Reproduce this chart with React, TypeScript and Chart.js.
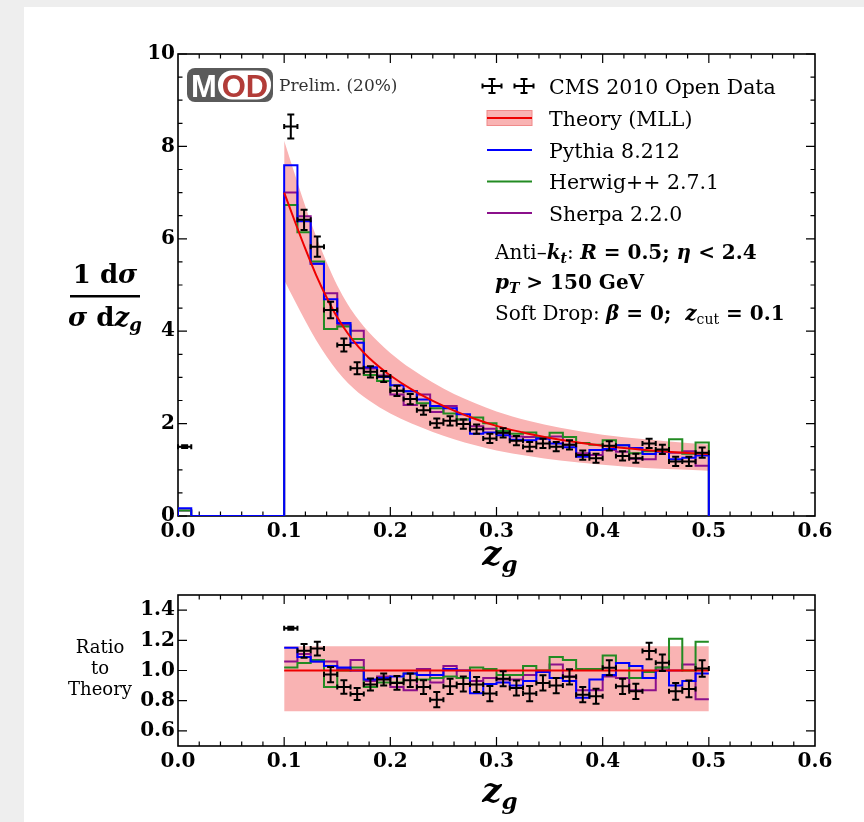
import React, { useEffect, useRef } from "react";
import { Chart, registerables } from "chart.js";

Chart.register(...registerables);

// ---------------- data ----------------
const binEdges = [
  0.1, 0.1125, 0.125, 0.1375, 0.15, 0.1625, 0.175, 0.1875, 0.2, 0.2125, 0.225,
  0.2375, 0.25, 0.2625, 0.275, 0.2875, 0.3, 0.3125, 0.325, 0.3375, 0.35, 0.3625,
  0.375, 0.3875, 0.4, 0.4125, 0.425, 0.4375, 0.45, 0.4625, 0.475, 0.4875, 0.5,
];
const underflowEdges = [0, 0.0125];

const dataValues = [
  8.43, 6.41, 5.83, 4.46, 3.7, 3.2, 3.12, 3.02, 2.71, 2.53, 2.29, 2.01, 2.06, 1.99,
  1.88, 1.68, 1.8, 1.63, 1.5, 1.57, 1.5, 1.54, 1.32, 1.25, 1.52, 1.3, 1.25, 1.57,
  1.44, 1.18, 1.18, 1.37,
];
const dataErrors = [
  0.26, 0.22, 0.22, 0.18, 0.14, 0.13, 0.12, 0.12, 0.11, 0.11, 0.1, 0.1, 0.1, 0.1,
  0.1, 0.1, 0.1, 0.1, 0.1, 0.1, 0.1, 0.1, 0.1, 0.1, 0.1, 0.1, 0.1, 0.1, 0.1, 0.1,
  0.1, 0.11,
];
const dataUnderflow = 1.5;
const dataUnderflowErr = 0.03;

const pythiaValues = [
  7.59, 6.38, 5.46, 4.69, 4.18, 3.75, 3.22, 3.01, 2.83, 2.7, 2.52, 2.38, 2.33, 2.2,
  1.78, 1.81, 1.75, 1.65, 1.64, 1.68, 1.57, 1.49, 1.28, 1.43, 1.45, 1.53, 1.47,
  1.34, 1.39, 1.23, 1.26, 1.31,
];
const herwigValues = [
  6.73, 6.14, 5.51, 4.05, 4.1, 3.83, 3.05, 2.92, 2.71, 2.7, 2.44, 2.33, 2.22, 2.09,
  2.13, 2.01, 1.84, 1.78, 1.81, 1.7, 1.8, 1.71, 1.58, 1.54, 1.64, 1.53, 1.36, 1.4,
  1.42, 1.66, 1.35, 1.59,
];
const sherpaValues = [
  7.0, 6.49, 5.46, 4.82, 4.14, 4.01, 3.19, 3.04, 2.63, 2.4, 2.63, 2.25, 2.38, 2.09,
  1.94, 1.89, 1.79, 1.72, 1.71, 1.68, 1.72, 1.54, 1.36, 1.32, 1.43, 1.39, 1.24,
  1.23, 1.42, 1.37, 1.4, 1.09,
];
const pythiaUnderflow = 0.17;
const herwigUnderflow = 0.12;
const sherpaUnderflow = 0.12;

const theoryZ = [
  0.1, 0.11, 0.12, 0.13, 0.14, 0.15, 0.16, 0.17, 0.18, 0.19, 0.2, 0.22, 0.24, 0.26,
  0.28, 0.3, 0.33, 0.36, 0.4, 0.44, 0.48, 0.5,
];
const theoryValues = [
  7.0, 6.38, 5.78, 5.22, 4.73, 4.3, 3.95, 3.66, 3.42, 3.22, 3.04, 2.74, 2.49, 2.28,
  2.1, 1.95, 1.78, 1.65, 1.52, 1.43, 1.365, 1.34,
];
const theoryHigh = [
  8.12, 7.4, 6.7, 6.06, 5.49, 4.99, 4.58, 4.25, 3.97, 3.74, 3.53, 3.18, 2.89, 2.64,
  2.44, 2.26, 2.06, 1.91, 1.76, 1.66, 1.58, 1.55,
];
const theoryLow = [
  5.11, 4.66, 4.22, 3.81, 3.45, 3.14, 2.88, 2.67, 2.5, 2.35, 2.22, 2.0, 1.82, 1.66,
  1.53, 1.42, 1.3, 1.2, 1.11, 1.04, 1.0, 0.98,
];

const ratioData = [
  1.28, 1.13, 1.145, 0.973, 0.891, 0.844, 0.907, 0.94, 0.918, 0.935, 0.89, 0.807,
  0.895, 0.911, 0.907, 0.847, 0.945, 0.884, 0.847, 0.918, 0.9, 0.958, 0.84, 0.829,
  1.018, 0.895, 0.862, 1.129, 1.051, 0.862, 0.878, 1.013,
];
const ratioErrors = [
  0.01, 0.045, 0.045, 0.05, 0.045, 0.04, 0.04, 0.04, 0.045, 0.045, 0.045, 0.05,
  0.05, 0.05, 0.05, 0.05, 0.05, 0.05, 0.05, 0.05, 0.05, 0.05, 0.05, 0.05, 0.05,
  0.05, 0.05, 0.055, 0.055, 0.055, 0.055, 0.055,
];
const ratioPythia = [
  1.15, 1.09, 1.06, 1.03, 1.02, 1.0, 0.94, 0.95, 0.96, 0.98, 0.97, 0.97, 1.01, 1.0,
  0.85, 0.91, 0.92, 0.9, 0.93, 0.99, 0.95, 0.93, 0.82, 0.94, 0.97, 1.05, 1.03, 0.95,
  1.0, 0.9, 0.93, 0.98,
];
const ratioHerwig = [
  1.02, 1.05, 1.07, 0.89, 1.0, 1.02, 0.89, 0.92, 0.92, 0.98, 0.94, 0.95, 0.96, 0.95,
  1.02, 1.01, 0.97, 0.97, 1.03, 1.0, 1.09, 1.07, 1.01, 1.01, 1.1, 1.05, 0.95, 0.99,
  1.02, 1.21, 1.0, 1.19,
];
const ratioSherpa = [
  1.06, 1.11, 1.06, 1.06, 1.01, 1.07, 0.93, 0.96, 0.89, 0.87, 1.01, 0.92, 1.03,
  0.95, 0.93, 0.95, 0.94, 0.94, 0.97, 0.99, 1.04, 0.96, 0.87, 0.87, 0.96, 0.95,
  0.87, 0.87, 1.02, 1.0, 1.04, 0.81,
];
const ratioBandLow = 0.73;
const ratioBandHigh = 1.16;
const ratioTheory = 1.0;

const xTickValues = [0, 0.1, 0.2, 0.3, 0.4, 0.5, 0.6];
const xTickLabels = ["0.0", "0.1", "0.2", "0.3", "0.4", "0.5", "0.6"];
const yTickValues = [0, 2, 4, 6, 8, 10];
const yTickLabels = ["0", "2", "4", "6", "8", "10"];
const ratioTickValues = [0.6, 0.8, 1.0, 1.2, 1.4];
const ratioTickLabels = ["0.6", "0.8", "1.0", "1.2", "1.4"];

// ---------------- styling ----------------
const SERIF = "'DejaVu Serif', serif";
const BLUE = "#0000ff";
const GREEN = "#228b22";
const PURPLE = "#8b108b";
const RED = "#ee0000";
const PINK = "#f9b3b3";

const tickFont = { family: SERIF, size: 20, weight: "bold" as const };

type Seg = { t: string; f: string; dy?: number };
function drawRich(ctx: CanvasRenderingContext2D, segs: Seg[], x: number, y: number, align: "left" | "center" = "left") {
  let w = 0;
  for (const s of segs) {
    ctx.font = s.f;
    w += ctx.measureText(s.t).width;
  }
  let cx = align === "center" ? x - w / 2 : x;
  ctx.textAlign = "left";
  ctx.textBaseline = "alphabetic";
  for (const s of segs) {
    ctx.font = s.f;
    ctx.fillText(s.t, cx, y + (s.dy || 0));
    cx += ctx.measureText(s.t).width;
  }
}

function mainHist(under: number, vals: number[]) {
  const pts = [
    { x: underflowEdges[0], y: 0 },
    { x: underflowEdges[0], y: under },
    { x: underflowEdges[1], y: 0 },
  ];
  vals.forEach((v, i) => pts.push({ x: binEdges[i], y: v }));
  pts.push({ x: binEdges[binEdges.length - 1], y: 0 });
  return pts;
}
function ratioHist(vals: number[]) {
  const pts = vals.map((v, i) => ({ x: binEdges[i], y: v }));
  pts.push({ x: binEdges[vals.length], y: vals[vals.length - 1] });
  return pts;
}
const binCenter = (i: number) => (binEdges[i] + binEdges[i + 1]) / 2;
const binHalf = (i: number) => (binEdges[i + 1] - binEdges[i]) / 2;

function framePlugin(yMajor: number[], yMinorStep: number | null) {
  return {
    id: "frame",
    beforeDatasetsDraw(chart: any) {
      const { ctx, chartArea: a } = chart;
      const xs = chart.scales.x;
      const ys = chart.scales.y;
      ctx.save();
      ctx.strokeStyle = "#000";
      ctx.lineWidth = 1.2;
      ctx.beginPath();
      const tx = (v: number, len: number) => {
        const p = xs.getPixelForValue(v);
        ctx.moveTo(p, a.bottom);
        ctx.lineTo(p, a.bottom - len);
        ctx.moveTo(p, a.top);
        ctx.lineTo(p, a.top + len);
      };
      const ty = (v: number, len: number) => {
        const p = ys.getPixelForValue(v);
        ctx.moveTo(a.left, p);
        ctx.lineTo(a.left + len, p);
        ctx.moveTo(a.right, p);
        ctx.lineTo(a.right - len, p);
      };
      for (let k = 1; k < 30; k++) {
        if (k % 5 === 0) tx(k * 0.02, 9);
        else tx(k * 0.02, 4.5);
      }
      for (const v of yMajor) ty(v, 9);
      if (yMinorStep) {
        const n = Math.round((ys.max - ys.min) / yMinorStep);
        for (let k = 1; k < n; k++) {
          const v = ys.min + k * yMinorStep;
          if (!yMajor.some((m) => Math.abs(m - v) < 1e-6)) ty(v, 4.5);
        }
      }
      ctx.stroke();
      ctx.lineWidth = 1.6;
      ctx.strokeRect(a.left, a.top, a.right - a.left, a.bottom - a.top);
      ctx.restore();
    },
  };
}

const errorBarPlugin = {
  id: "errbars",
  afterDatasetsDraw(chart: any) {
    const ds = chart.data.datasets.find((d: any) => d.label === "CMS 2010 Open Data");
    if (!ds) return;
    const { ctx } = chart;
    const xs = chart.scales.x;
    const ys = chart.scales.y;
    ctx.save();
    ctx.strokeStyle = "#000";
    ctx.lineWidth = 2;
    ctx.beginPath();
    for (const p of ds.data) {
      const px = xs.getPixelForValue(p.x);
      const py = ys.getPixelForValue(p.y);
      const x0 = xs.getPixelForValue(p.x - p.ex);
      const x1 = xs.getPixelForValue(p.x + p.ex);
      const y0 = ys.getPixelForValue(p.y - p.ey);
      const y1 = ys.getPixelForValue(p.y + p.ey);
      ctx.moveTo(x0, py);
      ctx.lineTo(x1, py);
      ctx.moveTo(px, y0);
      ctx.lineTo(px, y1);
      ctx.moveTo(px - 3.5, y0);
      ctx.lineTo(px + 3.5, y0);
      ctx.moveTo(px - 3.5, y1);
      ctx.lineTo(px + 3.5, y1);
      ctx.moveTo(x0, py - 2.5);
      ctx.lineTo(x0, py + 2.5);
      ctx.moveTo(x1, py - 2.5);
      ctx.lineTo(x1, py + 2.5);
    }
    ctx.stroke();
    ctx.restore();
  },
};

function crossIcon(ctx: CanvasRenderingContext2D, cx: number, cy: number) {
  ctx.beginPath();
  ctx.moveTo(cx - 9.5, cy);
  ctx.lineTo(cx + 9.5, cy);
  ctx.moveTo(cx, cy - 7);
  ctx.lineTo(cx, cy + 7);
  ctx.moveTo(cx - 3.5, cy - 7);
  ctx.lineTo(cx + 3.5, cy - 7);
  ctx.moveTo(cx - 3.5, cy + 7);
  ctx.lineTo(cx + 3.5, cy + 7);
  ctx.moveTo(cx - 9.5, cy - 2.5);
  ctx.lineTo(cx - 9.5, cy + 2.5);
  ctx.moveTo(cx + 9.5, cy - 2.5);
  ctx.lineTo(cx + 9.5, cy + 2.5);
  ctx.stroke();
}

const mainDecorPlugin = {
  id: "mainDecor",
  afterDraw(chart: any) {
    const ctx: CanvasRenderingContext2D = chart.ctx;
    ctx.save();
    // MOD logo
    ctx.fillStyle = "#5a5a5a";
    ctx.beginPath();
    (ctx as any).roundRect(187, 68, 86, 34, 8);
    ctx.fill();
    ctx.fillStyle = "#ffffff";
    ctx.beginPath();
    (ctx as any).roundRect(218, 70.5, 53, 29, 14);
    ctx.fill();
    ctx.font = "bold 31px 'Liberation Sans', Arial, sans-serif";
    ctx.textAlign = "center";
    ctx.textBaseline = "alphabetic";
    ctx.fillStyle = "#ffffff";
    ctx.fillText("M", 204, 97);
    ctx.fillStyle = "#b23c38";
    ctx.fillText("OD", 245, 97);
    ctx.fillStyle = "#333333";
    ctx.textAlign = "left";
    ctx.font = `17px ${SERIF}`;
    ctx.fillText("Prelim. (20%)", 279, 91);

    // legend
    const tx = 549;
    const R = `20.5px ${SERIF}`;
    ctx.fillStyle = "#000";
    ctx.font = R;
    ctx.textAlign = "left";
    ctx.strokeStyle = "#000";
    ctx.lineWidth = 2;
    crossIcon(ctx, 492, 86);
    crossIcon(ctx, 524, 86);
    ctx.fillText("CMS 2010 Open Data", tx, 93.5);

    ctx.fillStyle = PINK;
    ctx.fillRect(487, 110.5, 45, 15);
    ctx.strokeStyle = "#f08a8a";
    ctx.lineWidth = 1;
    ctx.strokeRect(487, 110.5, 45, 15);
    ctx.strokeStyle = RED;
    ctx.lineWidth = 2;
    ctx.beginPath();
    ctx.moveTo(487, 118);
    ctx.lineTo(532, 118);
    ctx.stroke();
    ctx.fillStyle = "#000";
    ctx.fillText("Theory (MLL)", tx, 126);

    const lines: [string, string, number][] = [
      [BLUE, "Pythia 8.212", 150],
      [GREEN, "Herwig++ 2.7.1", 181.5],
      [PURPLE, "Sherpa 2.2.0", 213],
    ];
    for (const [c, label, y] of lines) {
      ctx.strokeStyle = c;
      ctx.beginPath();
      ctx.moveTo(487, y);
      ctx.lineTo(532, y);
      ctx.stroke();
      ctx.fillStyle = "#000";
      ctx.font = R;
      ctx.fillText(label, tx, y + 7.5);
    }

    // annotations
    const B = `bold 20px ${SERIF}`;
    const BI = `italic bold 20px ${SERIF}`;
    const BIs = `italic bold 14px ${SERIF}`;
    const Rg = `20px ${SERIF}`;
    const Rs = `14px ${SERIF}`;
    ctx.fillStyle = "#000";
    drawRich(ctx, [
      { t: "Anti\u2013", f: Rg },
      { t: "k", f: BI },
      { t: "t", f: BIs, dy: 4 },
      { t: ": ", f: Rg },
      { t: "R", f: BI },
      { t: " = 0.5; ", f: B },
      { t: "\u03b7", f: BI },
      { t: " < 2.4", f: B },
    ], 495, 259);
    drawRich(ctx, [
      { t: "p", f: BI },
      { t: "T", f: BIs, dy: 4 },
      { t: " > 150 GeV", f: B },
    ], 495, 289);
    drawRich(ctx, [
      { t: "Soft Drop: ", f: Rg },
      { t: "\u03b2", f: BI },
      { t: " = 0;  ", f: B },
      { t: "z", f: BI },
      { t: "cut", f: Rs, dy: 4 },
      { t: " = 0.1", f: B },
    ], 495, 320);

    // y-axis title
    const B26 = `bold 26px ${SERIF}`;
    const BI26 = `italic bold 26px ${SERIF}`;
    const BI18 = `italic bold 18px ${SERIF}`;
    drawRich(ctx, [
      { t: "1 d", f: B26 },
      { t: "\u03c3", f: BI26 },
    ], 105, 283, "center");
    ctx.fillRect(70, 295, 70, 2.5);
    drawRich(ctx, [
      { t: "\u03c3", f: BI26 },
      { t: " d", f: B26 },
      { t: "z", f: BI26 },
      { t: "g", f: BI18, dy: 5 },
    ], 105, 326, "center");

    // x-axis title
    drawRich(ctx, [
      { t: "z", f: `italic bold 34px ${SERIF}` },
      { t: "g", f: `italic bold 23px ${SERIF}`, dy: 7 },
    ], 500, 565, "center");
    ctx.restore();
  },
};

const ratioDecorPlugin = {
  id: "ratioDecor",
  afterDraw(chart: any) {
    const ctx: CanvasRenderingContext2D = chart.ctx;
    ctx.save();
    ctx.fillStyle = "#000";
    ctx.font = `18px ${SERIF}`;
    ctx.textAlign = "center";
    ctx.textBaseline = "alphabetic";
    ctx.fillText("Ratio", 100, 78);
    ctx.fillText("to", 100, 99);
    ctx.fillText("Theory", 100, 120);
    drawRich(ctx, [
      { t: "z", f: `italic bold 34px ${SERIF}` },
      { t: "g", f: `italic bold 23px ${SERIF}`, dy: 7 },
    ], 500, 227, "center");
    ctx.restore();
  },
};

function xScale() {
  return {
    type: "linear" as const,
    min: 0,
    max: 0.6,
    grid: { display: false, drawTicks: false },
    border: { display: false },
    afterBuildTicks: (s: any) => {
      s.ticks = xTickValues.map((v) => ({ value: v }));
    },
    afterFit: (s: any) => {
      s.height = 30;
    },
    ticks: {
      callback: (_v: any, i: number) => xTickLabels[i],
      font: tickFont,
      color: "#000",
      padding: 4,
      maxRotation: 0,
      autoSkip: false,
    },
  };
}

function yScale(min: number, max: number, values: number[], labels: string[]) {
  return {
    type: "linear" as const,
    min,
    max,
    grid: { display: false, drawTicks: false },
    border: { display: false },
    afterBuildTicks: (s: any) => {
      s.ticks = values.map((v) => ({ value: v }));
    },
    afterFit: (s: any) => {
      s.width = 40;
    },
    ticks: {
      callback: (_v: any, i: number) => labels[i],
      font: tickFont,
      color: "#000",
      padding: 3,
      autoSkip: false,
    },
  };
}

function histDataset(label: string, color: string, data: any[], order: number) {
  return {
    label,
    data,
    borderColor: color,
    borderWidth: 2,
    pointRadius: 0,
    stepped: true,
    fill: false,
    order,
  };
}

export default function App() {
  const mainRef = useRef<HTMLCanvasElement>(null);
  const ratioRef = useRef<HTMLCanvasElement>(null);

  useEffect(() => {
    const theoryLine = theoryZ.map((z, i) => ({ x: z, y: theoryValues[i] }));
    const bandLo = theoryZ.map((z, i) => ({ x: z, y: theoryLow[i] }));
    const bandHi = theoryZ.map((z, i) => ({ x: z, y: theoryHigh[i] }));
    const dataPts = [
      { x: (underflowEdges[0] + underflowEdges[1]) / 2, y: dataUnderflow, ex: (underflowEdges[1] - underflowEdges[0]) / 2, ey: dataUnderflowErr },
      ...dataValues.map((v, i) => ({ x: binCenter(i), y: v, ex: binHalf(i), ey: dataErrors[i] })),
    ];

    const main = new Chart(mainRef.current!, {
      type: "line",
      data: {
        datasets: [
          { label: "bandLow", data: bandLo, borderWidth: 0, pointRadius: 0, fill: false, cubicInterpolationMode: "monotone", order: 10 },
          { label: "Theory band", data: bandHi, borderWidth: 0, pointRadius: 0, fill: "-1", backgroundColor: PINK, cubicInterpolationMode: "monotone", order: 9 },
          histDataset("Sherpa 2.2.0", PURPLE, mainHist(sherpaUnderflow, sherpaValues), 6),
          histDataset("Herwig++ 2.7.1", GREEN, mainHist(herwigUnderflow, herwigValues), 5),
          histDataset("Pythia 8.212", BLUE, mainHist(pythiaUnderflow, pythiaValues), 4),
          { label: "Theory (MLL)", data: theoryLine, borderColor: RED, borderWidth: 2, pointRadius: 0, fill: false, cubicInterpolationMode: "monotone", order: 3 },
          { label: "CMS 2010 Open Data", data: dataPts, showLine: false, pointRadius: 0, order: 1 },
        ],
      } as any,
      options: {
        responsive: false,
        animation: false,
        layout: { padding: { left: 138, right: 49, top: 54, bottom: 54 } },
        plugins: { legend: { display: false }, tooltip: { enabled: false } },
        scales: {
          x: xScale(),
          y: yScale(0, 10, yTickValues, yTickLabels),
        },
      } as any,
      plugins: [framePlugin(yTickValues, 0.5), errorBarPlugin, mainDecorPlugin],
    });

    const ratioPts = ratioData.map((v, i) => ({ x: binCenter(i), y: v, ex: binHalf(i), ey: ratioErrors[i] }));
    const first = binEdges[0];
    const last = binEdges[binEdges.length - 1];
    const ratio = new Chart(ratioRef.current!, {
      type: "line",
      data: {
        datasets: [
          { label: "bandLow", data: [{ x: first, y: ratioBandLow }, { x: last, y: ratioBandLow }], borderWidth: 0, pointRadius: 0, fill: false, order: 10 },
          { label: "Theory band", data: [{ x: first, y: ratioBandHigh }, { x: last, y: ratioBandHigh }], borderWidth: 0, pointRadius: 0, fill: "-1", backgroundColor: PINK, order: 9 },
          histDataset("Sherpa 2.2.0", PURPLE, ratioHist(ratioSherpa), 6),
          histDataset("Herwig++ 2.7.1", GREEN, ratioHist(ratioHerwig), 5),
          histDataset("Pythia 8.212", BLUE, ratioHist(ratioPythia), 4),
          { label: "Theory (MLL)", data: [{ x: first, y: ratioTheory }, { x: last, y: ratioTheory }], borderColor: RED, borderWidth: 2, pointRadius: 0, fill: false, order: 3 },
          { label: "CMS 2010 Open Data", data: ratioPts, showLine: false, pointRadius: 0, order: 1 },
        ],
      } as any,
      options: {
        responsive: false,
        animation: false,
        layout: { padding: { left: 138, right: 49, top: 20, bottom: 46 } },
        plugins: { legend: { display: false }, tooltip: { enabled: false } },
        scales: {
          x: xScale(),
          y: yScale(0.5, 1.5, ratioTickValues, ratioTickLabels),
        },
      } as any,
      plugins: [framePlugin(ratioTickValues, null), errorBarPlugin, ratioDecorPlugin],
    });

    return () => {
      main.destroy();
      ratio.destroy();
    };
  }, []);

  return (
    <div style={{ position: "fixed", left: 0, top: 0, width: 864, height: 822, background: "#eeeeee", overflow: "hidden" }}>
      <div style={{ position: "absolute", left: 24, top: 7, right: 0, bottom: 0, background: "#ffffff" }} />
      <canvas ref={mainRef} width={864} height={600} style={{ position: "absolute", left: 0, top: 0, width: 864, height: 600 }} />
      <canvas ref={ratioRef} width={864} height={247} style={{ position: "absolute", left: 0, top: 575, width: 864, height: 247 }} />
    </div>
  );
}
